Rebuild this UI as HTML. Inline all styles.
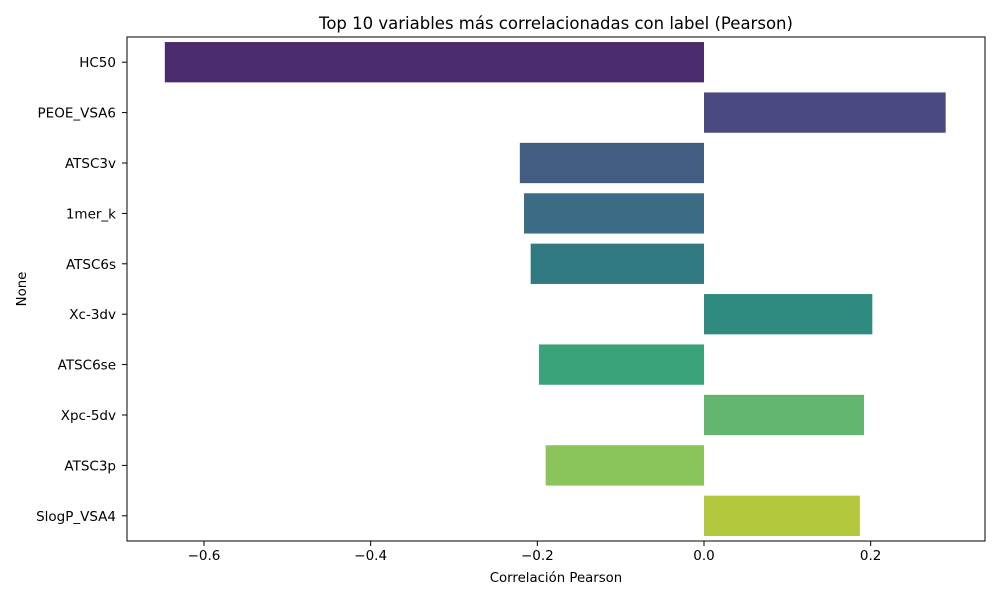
<!DOCTYPE html>
<html><head><meta charset="utf-8">
<style>
html,body{margin:0;padding:0;background:#fff;}
svg{display:block;font-family:"DejaVu Sans","Liberation Sans",sans-serif;}
</style></head>
<body>
<svg id="chart" width="1000" height="600">
<rect width="1000" height="600" fill="#fff"/>
<text x="556" y="29" font-size="16.5" text-anchor="middle" fill="#000">Top 10 variables más correlacionadas con label (Pearson)</text>
<g id="bars"></g>
<g id="xticks"></g>
<g id="yticks"></g>
<rect x="127" y="37" width="858" height="504" fill="none" stroke="#000" stroke-width="1"/>
<text x="556" y="582" font-size="13.3" text-anchor="middle">Correlación Pearson</text>
<text transform="translate(26,289) rotate(-90)" font-size="13.3" text-anchor="middle">None</text>
</svg>
<script>
const categories=["HC50","PEOE_VSA6","ATSC3v","1mer_k","ATSC6s","Xc-3dv","ATSC6se","Xpc-5dv","ATSC3p","SlogP_VSA4"];
const values=[-0.647,0.290,-0.221,-0.216,-0.208,0.202,-0.198,0.192,-0.190,0.187];
const colors=["#4a2b6c","#4a4a80","#435c84","#3d6d86","#317a82","#2f8b80","#3ba37a","#62b56f","#8bc45b","#b2c73c"];
const xTicks=[-0.6,-0.4,-0.2,0.0,0.2];
const xTickLabels=["\u22120.6","\u22120.4","\u22120.2","0.0","0.2"];
const NS="http://www.w3.org/2000/svg";
const L=127,R=985,T=37,B=541,xmin=-0.6924,xmax=0.3372;
function xs(v){return L+(v-xmin)/(xmax-xmin)*(R-L);}
const band=(B-T)/categories.length;
function yc(i){return T+band*(i+0.5);}
const bars=document.getElementById('bars'),xt=document.getElementById('xticks'),yt=document.getElementById('yticks');
categories.forEach((c,i)=>{
  const r=document.createElementNS(NS,'rect');
  const x0=xs(0),x1=xs(values[i]);
  r.setAttribute('x',Math.min(x0,x1));r.setAttribute('width',Math.abs(x1-x0));
  r.setAttribute('y',yc(i)-band*0.4);r.setAttribute('height',band*0.8);
  r.setAttribute('fill',colors[i]);
  
  
  bars.appendChild(r);
  const l=document.createElementNS(NS,'line');
  l.setAttribute('x1',L-5);l.setAttribute('x2',L);l.setAttribute('y1',yc(i));l.setAttribute('y2',yc(i));l.setAttribute('stroke','#000');
  
  
  yt.appendChild(l);
  const t=document.createElementNS(NS,'text');
  t.setAttribute('x',L-11);t.setAttribute('y',yc(i)+5);t.setAttribute('font-size','13.5');t.setAttribute('text-anchor','end');
  t.textContent=c;
  
  
  yt.appendChild(t);
});
xTicks.forEach((v,i)=>{
  const x=xs(v);
  const l=document.createElementNS(NS,'line');
  l.setAttribute('x1',x);l.setAttribute('x2',x);l.setAttribute('y1',B);l.setAttribute('y2',B+5);l.setAttribute('stroke','#000');
  
  
  xt.appendChild(l);
  const t=document.createElementNS(NS,'text');
  t.setAttribute('x',x);t.setAttribute('y',B+19);t.setAttribute('font-size','13.5');t.setAttribute('text-anchor','middle');
  t.textContent=xTickLabels[i];
  
  
  xt.appendChild(t);
});
</script>
</body></html>
